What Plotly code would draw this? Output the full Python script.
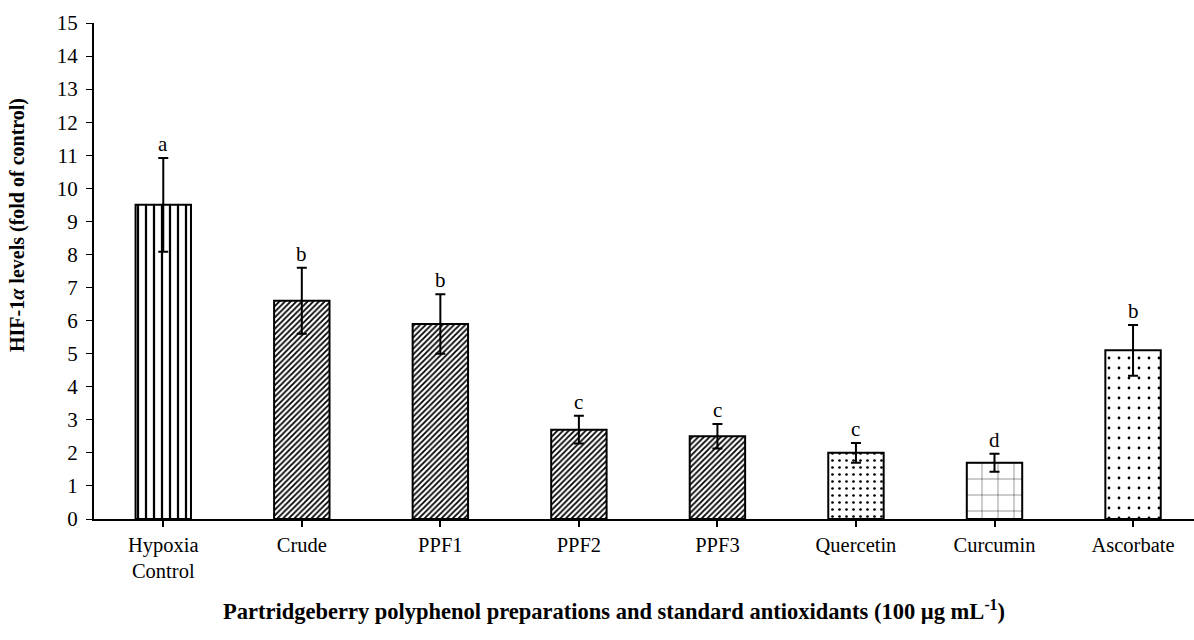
import plotly.graph_objects as go

categories = ["Hypoxia<br>Control", "Crude", "PPF1", "PPF2", "PPF3", "Quercetin", "Curcumin", "Ascorbate"]
values = [9.5, 6.6, 5.9, 2.7, 2.5, 2.0, 1.7, 5.1]
errors = [1.42, 1.0, 0.9, 0.42, 0.37, 0.3, 0.27, 0.77]
letters = ["a", "b", "b", "c", "c", "c", "d", "b"]
y_ticks = list(range(0, 16))

shapes_p = ["|", "/", "/", "/", "/", ".", "+", "."]
sizes_p = [8, 4, 4, 4, 4, 7, 16, 10]
solid_p = [0.28, 0.45, 0.45, 0.45, 0.45, 0.12, 0.05, 0.06]

font_fam = "Liberation Serif, Times New Roman, serif"

fig = go.Figure()
fig.add_trace(go.Bar(
    x=list(range(len(categories))), y=values, width=0.4,
    marker=dict(color="white", line=dict(color="black", width=2),
                pattern=dict(shape=shapes_p, size=sizes_p, solidity=solid_p,
                             fgcolor="black", bgcolor="white", fillmode="replace")),
    error_y=dict(type="data", array=errors, visible=True, color="black",
                 thickness=2, width=5),
    showlegend=False,
))

for i, (v, e, t) in enumerate(zip(values, errors, letters)):
    fig.add_annotation(x=i, y=v + e, text=t, showarrow=False, yanchor="bottom",
                       yshift=0, font=dict(family=font_fam, size=21, color="black"))

fig.add_annotation(xref="paper", yref="paper", x=0.473, y=-0.183, yanchor="middle",
                   text="<b>Partridgeberry polyphenol preparations and standard antioxidants (100 µg mL<sup>-1</sup>)</b>",
                   showarrow=False, font=dict(family=font_fam, size=22.5, color="black"))

fig.add_annotation(xref="paper", yref="paper", x=-0.069, y=0.593, xanchor="center",
                   yanchor="middle", textangle=-90,
                   text="<b>HIF-1<i>α</i> levels (fold of control)</b>",
                   showarrow=False, font=dict(family=font_fam, size=20, color="black"))

fig.update_layout(
    width=1194, height=640,
    margin=dict(l=94, r=0, t=23, b=121),
    plot_bgcolor="white", paper_bgcolor="white",
    font=dict(family=font_fam, size=20, color="black"),
    bargap=0.6,
    xaxis=dict(range=[-0.5, 7.44], tickmode="array",
               tickvals=list(range(len(categories))), ticktext=categories,
               showline=True, linecolor="black", linewidth=2,
               ticks="outside", tickson="boundaries", ticklen=6, tickwidth=1.5,
               tickcolor="black", showgrid=False, zeroline=False,
               tickfont=dict(family=font_fam, size=20.5)),
    yaxis=dict(range=[0, 15], tickmode="array", tickvals=y_ticks,
               showline=True, linecolor="black", linewidth=2,
               ticks="outside", ticklen=6, tickwidth=1, tickcolor="black",
               showgrid=False, zeroline=False, ticklabelstandoff=4,
               tickfont=dict(family=font_fam, size=21)),
)

fig.write_html("out.html")
